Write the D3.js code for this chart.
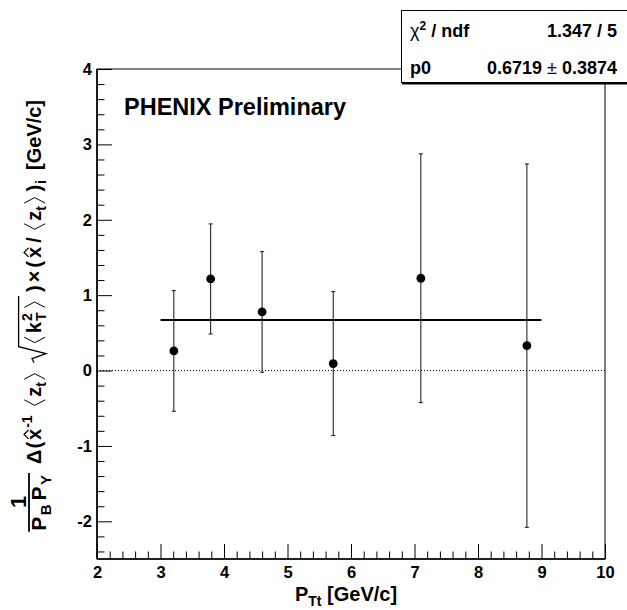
<!DOCTYPE html>
<html><head><meta charset="utf-8">
<script src="https://cdn.jsdelivr.net/npm/d3@7"></script>
<style>
body{margin:0;background:#fff}
svg text{font-family:"Liberation Sans",Arial,Helvetica,sans-serif;font-weight:bold;fill:#000}
</style>
</head><body>
<svg id="c" width="627" height="610"></svg>
<script>
// Measured points: mean P_Tt per bin, asymmetry product and its error
const ptT = [3.21, 3.79, 4.60, 5.72, 7.10, 8.77];
const asym = [0.26, 1.215, 0.777, 0.092, 1.224, 0.33];
const asymErr = [0.80, 0.73, 0.80, 0.955, 1.65, 2.41];
// Constant (pol0) fit result
const fitP0 = 0.6719, fitP0Err = 0.3874, chi2 = 1.347, ndf = 5;
const fitRange = [3, 9];
// Axis layout
const xDomain = [2, 10], yDomain = [-2.5, 4];
const xTicks = [2, 3, 4, 5, 6, 7, 8, 9, 10];
const yTicks = [-2, -1, 0, 1, 2, 3, 4];

const frame = {l: 97, r: 605, t: 69, b: 559};
const svg = d3.select("#c");
const x = d3.scaleLinear(xDomain, [frame.l, frame.r]);
const y = d3.scaleLinear(yDomain, [frame.b, frame.t]);

// minor tick positions (5 divisions per major)
const xMinor = d3.range(xDomain[0], xDomain[1] + 1e-9, 0.2).filter(v => Math.abs(v - Math.round(v)) > 1e-6);
const yMinor = d3.range(-2.4, 4, 0.2).filter(v => Math.abs(v - Math.round(v)) > 1e-6);
const plain = d => String(d);

function styleAxis(g, fs) {
  g.attr("font-family", null).attr("font-size", null);
  g.select(".domain").remove();
  g.selectAll("line").attr("stroke", "#000").attr("stroke-width", 1);
  g.selectAll("text").attr("font-size", fs).attr("fill", "#000");
}

// x axis: ticks drawn inward
svg.append("g").attr("transform", `translate(0,${frame.b})`)
  .call(d3.axisBottom(x).tickValues(xMinor).tickSize(-7.5).tickFormat(""))
  .call(g => styleAxis(g, 16.5));
svg.append("g").attr("transform", `translate(0,${frame.b})`)
  .call(d3.axisBottom(x).tickValues(xTicks).tickSize(-15).tickPadding(7).tickFormat(plain))
  .call(g => styleAxis(g, 16.5));

// y axis
svg.append("g").attr("transform", `translate(${frame.l},0)`)
  .call(d3.axisLeft(y).tickValues(yMinor).tickSize(-7.5).tickFormat(""))
  .call(g => styleAxis(g, 16.5));
svg.append("g").attr("transform", `translate(${frame.l},0)`)
  .call(d3.axisLeft(y).tickValues(yTicks).tickSize(-15).tickPadding(5).tickFormat(plain))
  .call(g => styleAxis(g, 16.5));

// frame
svg.append("rect").attr("x", frame.l).attr("y", frame.t)
  .attr("width", frame.r - frame.l).attr("height", frame.b - frame.t)
  .attr("fill", "none").attr("stroke", "#000").attr("stroke-width", 1);
svg.append("line").attr("x1", frame.l).attr("x2", frame.r).attr("y1", frame.b).attr("y2", frame.b)
  .attr("stroke", "#000").attr("stroke-width", 1.6);
svg.append("line").attr("x1", frame.l).attr("x2", frame.l).attr("y1", frame.t).attr("y2", frame.b)
  .attr("stroke", "#000").attr("stroke-width", 1.6);

// zero reference line
svg.append("line").attr("x1", frame.l).attr("x2", frame.r).attr("y1", y(0)).attr("y2", y(0))
  .attr("stroke", "#000").attr("stroke-width", 1).attr("stroke-dasharray", "1,2");

// fit line
svg.append("line").attr("x1", x(fitRange[0])).attr("x2", x(fitRange[1]))
  .attr("y1", y(fitP0)).attr("y2", y(fitP0)).attr("stroke", "#000").attr("stroke-width", 2);

// error bars and markers
const pts = ptT.map((v, i) => ({x: v, y: asym[i], e: asymErr[i]}));
const eb = svg.append("g").attr("stroke", "#111").attr("stroke-width", 1);
eb.selectAll("line.v").data(pts).join("line").attr("class", "v")
  .attr("x1", d => x(d.x)).attr("x2", d => x(d.x))
  .attr("y1", d => y(d.y - d.e)).attr("y2", d => y(d.y + d.e));
eb.selectAll("line.cl").data(pts).join("line").attr("class", "cl")
  .attr("x1", d => x(d.x) - 2).attr("x2", d => x(d.x) + 2)
  .attr("y1", d => y(d.y - d.e)).attr("y2", d => y(d.y - d.e));
eb.selectAll("line.ch").data(pts).join("line").attr("class", "ch")
  .attr("x1", d => x(d.x) - 2).attr("x2", d => x(d.x) + 2)
  .attr("y1", d => y(d.y + d.e)).attr("y2", d => y(d.y + d.e));
svg.append("g").selectAll("circle").data(pts).join("circle")
  .attr("cx", d => x(d.x)).attr("cy", d => y(d.y)).attr("r", 4.4).attr("fill", "#000");

// label
svg.append("text").attr("x", 124).attr("y", 115).attr("font-size", 23.5).text("PHENIX Preliminary");

// x title
const xt = svg.append("text").attr("x", 346).attr("y", 601).attr("text-anchor", "middle").attr("font-size", 20);
xt.append("tspan").text("P");
xt.append("tspan").attr("font-size", 14).attr("dy", 5).text("Tt");
xt.append("tspan").attr("dy", -5).text(" [GeV/c]");

// y title, composed piece by piece along the rotated baseline
const F = 20, FS = 14;
const yt = svg.append("g");
let cx = 0;
function put(str, o = {}) {
  const x0 = cx + (o.gap || 0);
  const t = yt.append("text").attr("x", x0).attr("y", o.dy || 0)
    .attr("font-size", o.fs || F).attr("font-weight", o.w || "bold").text(str);
  if (o.anchor) t.attr("text-anchor", o.anchor);
  const w = t.node().getComputedTextLength();
  if (!o.keep) cx = x0 + w;
  return {x0, w};
}
function bracket(open, o = {}) {
  const h = o.h || F * 1.05, w = o.w || 5.5, base = o.base || 0;
  const x0 = cx + (o.gap || 3);
  const top = base - h * 0.8, bot = base + h * 0.2, mid = (top + bot) / 2;
  const d = open ? `M${x0 + w},${top}L${x0},${mid}L${x0 + w},${bot}`
                 : `M${x0},${top}L${x0 + w},${mid}L${x0},${bot}`;
  yt.append("path").attr("d", d).attr("fill", "none").attr("stroke", "#000").attr("stroke-width", 1);
  cx = x0 + w + (o.after || 3);
}
function hat(seg) {
  const m = seg.x0 + seg.w / 2, b = -F * 0.62;
  yt.append("path").attr("d", `M${m - 4.5},${b}L${m},${b - 4.5}L${m + 4.5},${b}`)
    .attr("fill", "none").attr("stroke", "#000").attr("stroke-width", 1.3);
}
// fraction 1 / (P_B P_Y), sitting slightly below the main baseline
put("P", {dy: 5, fs: 21});
put("B", {fs: 15, dy: 10, gap: 1.5});
put("P", {dy: 5, gap: 4, fs: 21});
put("Y", {fs: 15, dy: 10, gap: 1.5});
const fracW = cx + 2;
yt.append("line").attr("x1", -1).attr("x2", fracW).attr("y1", -12).attr("y2", -12)
  .attr("stroke", "#000").attr("stroke-width", 1.8);
put("1", {anchor: "middle", keep: true, dy: -15, fs: 22, gap: fracW / 2 - cx});
cx = fracW;
put("\u0394", {w: "normal", gap: 9});
put("(", {w: "normal", gap: 1});
hat(put("x", {gap: 2}));
put("-1", {fs: FS, dy: -9, gap: 1});
bracket(true, {gap: 10});
put("z");
put("t", {fs: FS, dy: 5});
bracket(false);
// square root of <k_T^2>
const sqStart = cx + 8;
cx = sqStart + 17;
bracket(true, {gap: 3, after: 4});
put("k");
put("2", {fs: FS, dy: -9, gap: 1, keep: true});
put("T", {fs: FS, dy: 5, gap: 1});
bracket(false, {gap: 5, after: 3});
const sqEnd = cx + 3;
yt.append("path")
  .attr("d", `M${sqStart},${-7}L${sqStart + 4},${-9}L${sqStart + 9},${5}L${sqStart + 16},${-F * 1.12}L${sqEnd},${-F * 1.12}`)
  .attr("fill", "none").attr("stroke", "#000").attr("stroke-width", 1.3);
put(")", {w: "normal", gap: 7});
put("\u00d7", {w: "normal", gap: 3});
put("(", {w: "normal", gap: 3});
hat(put("x", {gap: 3}));
put("/", {w: "normal", gap: 4});
bracket(true, {gap: 8});
put("z");
put("t", {fs: FS, dy: 5});
bracket(false);
put(")", {w: "normal", gap: 3});
put("i", {fs: FS, dy: 5, gap: 1});
put("[GeV/c]", {gap: 10});
const yTitleEnd = 100;
yt.attr("transform", `translate(41,${yTitleEnd + cx}) rotate(-90)`);

// fit statistics box
const box = svg.append("g");
box.append("rect").attr("x", 401.5).attr("y", 10.5).attr("width", 240).attr("height", 72)
  .attr("fill", "#fff").attr("stroke", "#000").attr("stroke-width", 1);
box.append("line").attr("x1", 402).attr("x2", 627).attr("y1", 83.5).attr("y2", 83.5)
  .attr("stroke", "#000").attr("stroke-width", 2);
const r1 = box.append("text").attr("x", 410).attr("y", 37).attr("font-size", 18);
r1.append("tspan").attr("font-weight", "normal").text("\u03c7");
r1.append("tspan").attr("font-size", 12).attr("dy", -7).text("2");
r1.append("tspan").attr("dy", 7).text(" / ndf");
box.append("text").attr("x", 617).attr("y", 37).attr("font-size", 18).attr("text-anchor", "end")
  .text(`${d3.format(".3f")(chi2)} / ${ndf}`);
box.append("text").attr("x", 410).attr("y", 73.5).attr("font-size", 18).text("p0");
const r2 = box.append("text").attr("x", 617).attr("y", 73.5).attr("font-size", 18).attr("text-anchor", "end");
r2.append("tspan").text(d3.format(".4f")(fitP0));
r2.append("tspan").attr("font-weight", "normal").text(" \u00b1 ");
r2.append("tspan").text(d3.format(".4f")(fitP0Err));
</script>
</body></html>
